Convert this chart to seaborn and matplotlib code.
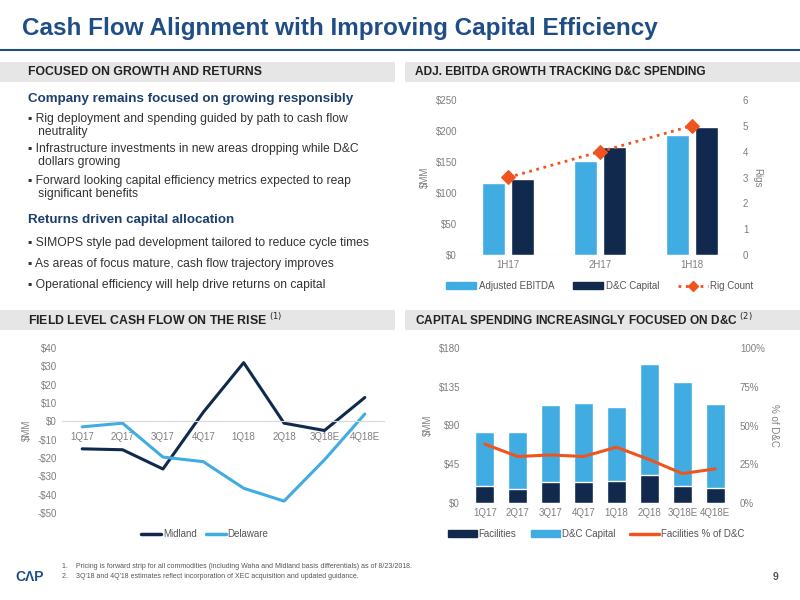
import matplotlib
matplotlib.use("Agg")
import matplotlib.pyplot as plt
import seaborn as sns
import pandas as pd
from matplotlib.lines import Line2D
from matplotlib.patches import Patch, Rectangle

sns.set_theme(style="white")
plt.rcParams['font.family'] = ['Liberation Sans', 'DejaVu Sans']

LIGHT = '#41ACE1'; DARK = '#10294d'; ORANGE = '#F0541E'; GRAY = '#7f7f7f'

halves = ['1H17', '2H17', '1H18']
ebitda = [116, 151, 194]
dc_half = [122, 174, 206]
rigs = [3, 4, 5]

quarters = ['1Q17', '2Q17', '3Q17', '4Q17', '1Q18', '2Q18', '3Q18E', '4Q18E']
midland = [-15, -15.5, -26, 5, 32, -1, -5, 13]
delaware = [-3, -1, -19.5, -22, -36.5, -43.5, -21, 4]

dc_q = [83, 83, 114, 116, 112, 162, 140, 115]
facilities = [20, 16, 24, 24, 26, 32, 20, 18]
fac_pct = [38, 30, 31, 30, 36, 28, 19, 22]

fig = plt.figure(figsize=(8, 6), dpi=100)
W, H = 800, 600
def ax_px(x0, y0, x1, y1):
    return fig.add_axes([x0 / W, 1 - y1 / H, (x1 - x0) / W, (y1 - y0) / H])

TITLE = '#1f4e86'
fig.text(22 / W, 1 - 28 / H, 'Cash Flow Alignment with Improving Capital Efficiency',
         fontsize=17.5, fontweight='bold', color=TITLE, va='center')
fig.add_artist(Line2D([0, 1], [1 - 50 / H, 1 - 50 / H], color=TITLE, lw=1.5))

def header(x0, x1, y0, tx0, text, fs):
    fig.add_artist(Rectangle((x0 / W, 1 - (y0 + 20) / H), (x1 - x0) / W, 20 / H,
                             facecolor='#e6e6e6', edgecolor='none'))
    fig.text(tx0 / W, 1 - (y0 + 10) / H, text, fontsize=fs, fontweight='bold',
             color='#222222', va='center')

header(0, 395, 62, 28, 'FOCUSED ON GROWTH AND RETURNS', 8.8)
header(405, 800, 62, 415, 'ADJ. EBITDA GROWTH TRACKING D&C SPENDING', 8.6)
header(0, 395, 310, 28, 'FIELD LEVEL CASH FLOW ON THE RISE $^{(1)}$', 8.8)
header(405, 800, 310, 415, 'CAPITAL SPENDING INCREASINGLY FOCUSED ON D&C $^{(2)}$', 8.6)

tx = 28 / W
def t(y, s, **kw):
    fig.text(tx, 1 - y / H, s, va='center', **kw)
hd = dict(fontsize=9.6, fontweight='bold', color='#1c3f6e')
t(99, 'Company remains focused on growing responsibly', **hd)
bl = dict(fontsize=8.7, color='#333333')
t(119, '▪ Rig deployment and spending guided by path to cash flow', **bl)
t(132, '   neutrality', **bl)
t(149, '▪ Infrastructure investments in new areas dropping while D&C', **bl)
t(162, '   dollars growing', **bl)
t(181, '▪ Forward looking capital efficiency metrics expected to reap', **bl)
t(194, '   significant benefits', **bl)
t(220, 'Returns driven capital allocation', **hd)
t(243, '▪ SIMOPS style pad development tailored to reduce cycle times', **bl)
t(264, '▪ As areas of focus mature, cash flow trajectory improves', **bl)
t(285, '▪ Operational efficiency will help drive returns on capital', **bl)

def style(ax):
    for s in ax.spines.values():
        s.set_visible(False)
    ax.tick_params(colors=GRAY, labelsize=7, length=0)
    ax.set_xlabel('')

# Chart 1
ax1 = ax_px(462, 100, 738, 255)
df1 = pd.DataFrame({'period': halves * 2, 'value': ebitda + dc_half,
                    'series': ['Adjusted EBITDA'] * 3 + ['D&C Capital'] * 3})
sns.barplot(data=df1, x='period', y='value', hue='series', palette=[LIGHT, DARK],
            width=0.62, gap=0.2, ax=ax1, legend=False, saturation=1)
ax1.set_ylim(0, 250)
ax1.set_yticks(range(0, 251, 50))
ax1.set_yticklabels([f'${v}' for v in range(0, 251, 50)])
ax1.axhline(0, color='#d9d9d9', lw=0.8)
ax1.set_ylabel('$MM', fontsize=7, color=GRAY)
style(ax1)
ax1b = ax1.twinx()
sns.lineplot(x=list(range(3)), y=rigs, ax=ax1b, color=ORANGE, ls=':', lw=2,
             marker='D', markersize=7, markeredgecolor=ORANGE)
ax1b.set_ylim(0, 6)
ax1b.set_ylabel('Rigs', fontsize=7, color=GRAY, rotation=270, labelpad=10)
style(ax1b)
ax1.set_xlim(-0.5, 2.5)
fig.legend(handles=[Patch(color=LIGHT, label='Adjusted EBITDA'), Patch(color=DARK, label='D&C Capital'),
                    Line2D([], [], color=ORANGE, ls=':', lw=2, marker='D', markersize=5, label='Rig Count')],
           loc='center', bbox_to_anchor=(600 / W, 1 - 286 / H), ncol=3, frameon=False,
           fontsize=7, labelcolor='#555555', handlelength=3, columnspacing=2, handletextpad=0.3)

# Chart 2
ax2 = ax_px(62, 348, 385, 513)
df2 = pd.DataFrame({'q': quarters * 2, 'v': midland + delaware,
                    'region': ['Midland'] * 8 + ['Delaware'] * 8})
sns.lineplot(data=df2, x='q', y='v', hue='region', palette=[DARK, LIGHT], lw=2.2,
             ax=ax2, legend=False, sort=False)
ax2.set_ylim(-50, 40)
ax2.set_yticks(range(-50, 41, 10))
ax2.set_yticklabels([f'${v}' if v >= 0 else f'-${-v}' for v in range(-50, 41, 10)])
ax2.set_xlim(-0.5, 7.5)
ax2.axhline(0, color='#d9d9d9', lw=0.8)
ax2.set_ylabel('$MM', fontsize=7, color=GRAY)
style(ax2)
ax2.tick_params(axis='x', pad=-58)
fig.legend(handles=[Line2D([], [], color=DARK, lw=2.5, label='Midland'),
                    Line2D([], [], color=LIGHT, lw=2.5, label='Delaware')],
           loc='center', bbox_to_anchor=(205 / W, 1 - 534 / H), ncol=2, frameon=False,
           fontsize=7, labelcolor='#555555', columnspacing=1, handletextpad=0.2)

# Chart 3
ax3 = ax_px(465, 348, 735, 503)
sns.barplot(x=quarters, y=dc_q, color=LIGHT, width=0.58, ax=ax3, saturation=1)
sns.barplot(x=quarters, y=facilities, color=DARK, width=0.58, ax=ax3, saturation=1)
ax3.set_ylim(0, 180)
ax3.set_yticks(range(0, 181, 45))
ax3.set_yticklabels([f'${v}' for v in range(0, 181, 45)])
ax3.axhline(0, color='#d9d9d9', lw=0.8)
ax3.set_ylabel('$MM', fontsize=7, color=GRAY)
style(ax3)
ax3b = ax3.twinx()
sns.lineplot(x=list(range(8)), y=fac_pct, ax=ax3b, color=ORANGE, lw=2.2)
ax3b.set_ylim(0, 100)
ax3b.set_yticks(range(0, 101, 25))
ax3b.set_yticklabels([f'{v}%' for v in range(0, 101, 25)])
ax3b.set_ylabel('% of D&C', fontsize=7, color=GRAY, rotation=270, labelpad=10)
style(ax3b)
ax3.set_xlim(-0.6, 7.6)
fig.legend(handles=[Patch(color=DARK, label='Facilities'), Patch(color=LIGHT, label='D&C Capital'),
                    Line2D([], [], color=ORANGE, lw=2.5, label='Facilities % of D&C')],
           loc='center', bbox_to_anchor=(596 / W, 1 - 534 / H), ncol=3, frameon=False,
           fontsize=7, labelcolor='#555555', handlelength=3, columnspacing=1.5, handletextpad=0.2)

fig.text(62 / W, 1 - 567 / H, '1.    Pricing is forward strip for all commodities (including Waha and Midland basis differentials) as of 8/23/2018.',
         fontsize=5, color='#555555', va='center')
fig.text(62 / W, 1 - 577 / H, "2.    3Q'18 and 4Q'18 estimates reflect incorporation of XEC acquisition and updated guidance.",
         fontsize=5, color='#555555', va='center')
fig.text(30 / W, 1 - 577 / H, 'CΛP', fontsize=10, fontweight='bold', color=TITLE, va='center', ha='center')
fig.text(778 / W, 1 - 577 / H, '9', fontsize=7.5, fontweight='bold', color='#555555', va='center', ha='right')

fig.savefig('out.png', dpi=100)
